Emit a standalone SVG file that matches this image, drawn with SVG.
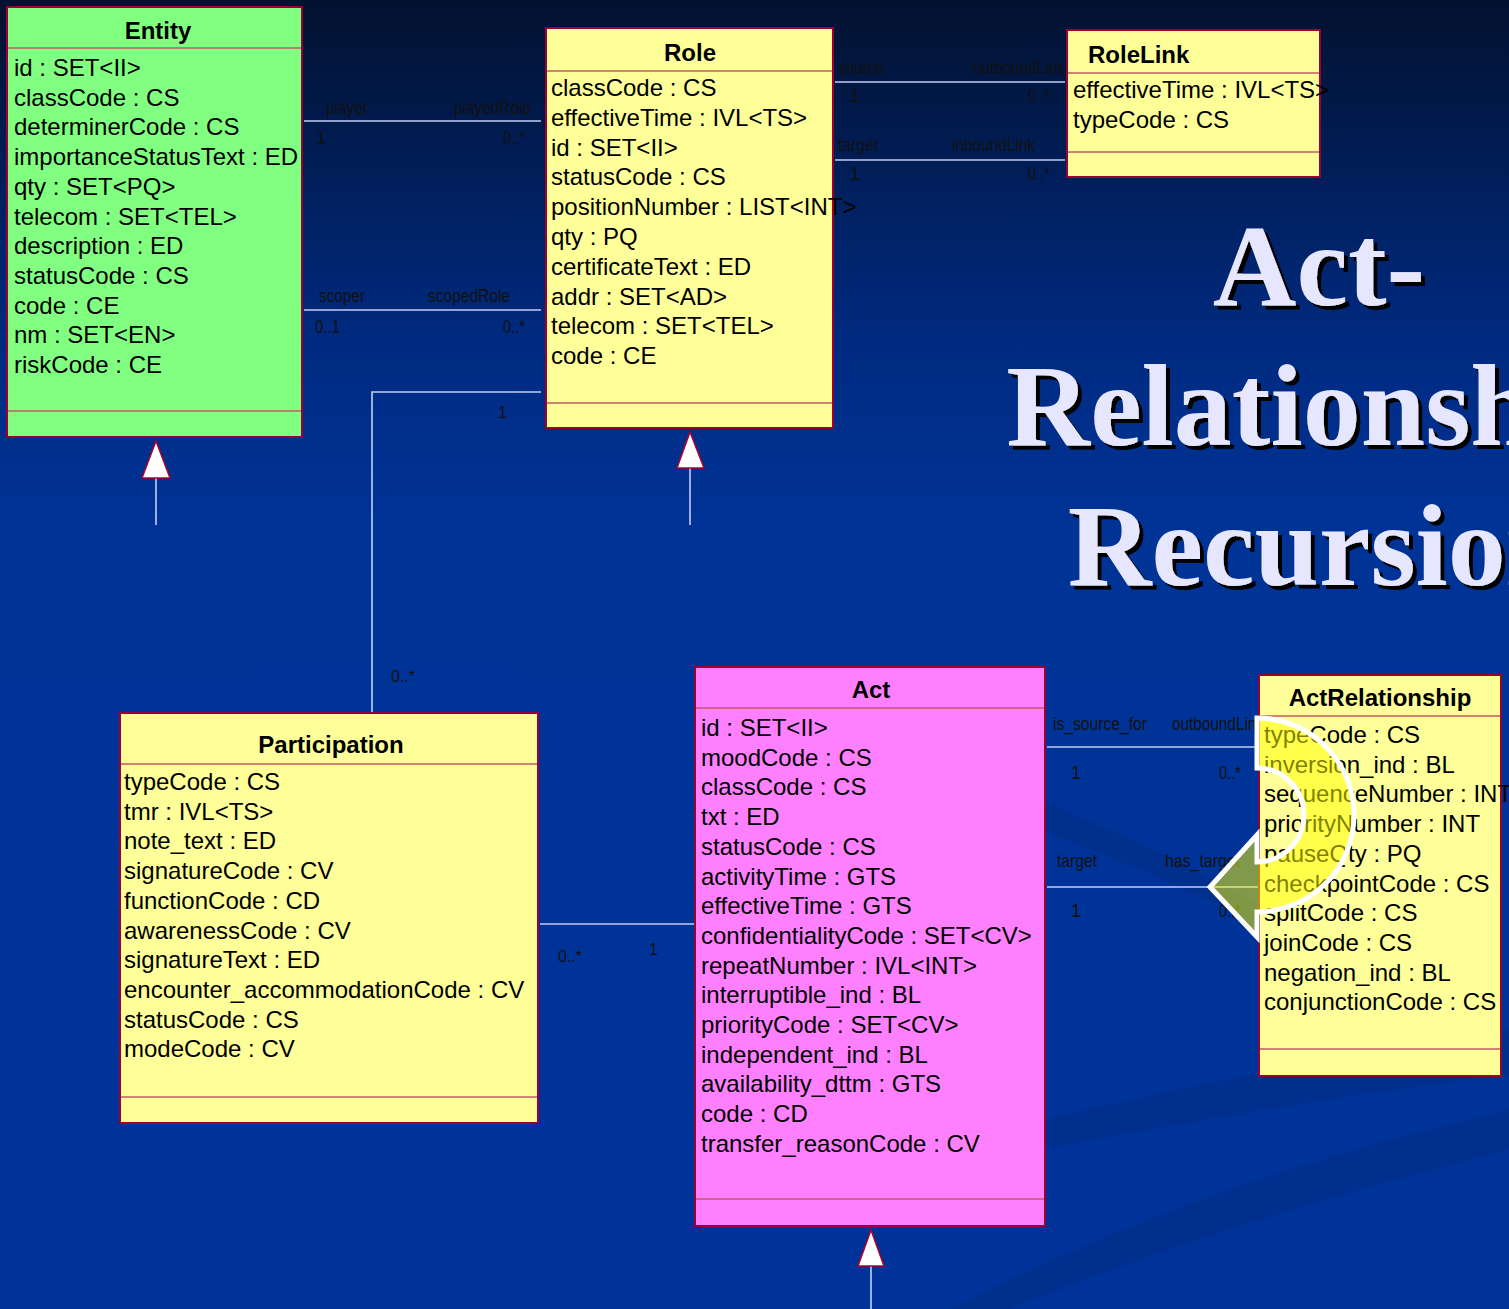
<svg xmlns="http://www.w3.org/2000/svg" width="1509" height="1309" viewBox="0 0 1509 1309">
  <defs>
    <linearGradient id="bg" x1="0" y1="0" x2="0" y2="1309" gradientUnits="userSpaceOnUse">
      <stop offset="0" stop-color="#03112f"/>
      <stop offset="0.12" stop-color="#011d55"/>
      <stop offset="0.26" stop-color="#002a80"/>
      <stop offset="0.4" stop-color="#003396"/>
      <stop offset="1" stop-color="#003399"/>
    </linearGradient>
    <filter id="shadow" x="-5%" y="-5%" width="115%" height="120%">
      <feOffset in="SourceAlpha" dx="4" dy="4" result="off"/>
      <feFlood flood-color="#000000"/>
      <feComposite in2="off" operator="in" result="sh"/>
      <feMerge>
        <feMergeNode in="sh"/>
        <feMergeNode in="SourceGraphic"/>
      </feMerge>
    </filter>
  </defs>
  <style>
    .box { stroke: #990033; stroke-width: 2; }
    .green { fill: #80ff80; }
    .yellow { fill: #ffff99; }
    .pink { fill: #ff80ff; }
    .sep { stroke: #c05a6a; stroke-width: 1.5; }
    .ttl { font-family: "Liberation Sans", Arial, sans-serif; font-weight: bold; font-size: 24px; fill: #000; text-anchor: middle; }
    .att { font-family: "Liberation Sans", Arial, sans-serif; font-size: 24px; fill: #000; }
    .conn { stroke: #c4cdf4; stroke-width: 1.6; fill: none; }
    .lbl { font-family: "Liberation Sans Narrow", "Arial Narrow", "Liberation Sans", sans-serif; font-size: 18px; fill: #111; }
    .mul { font-family: "Liberation Sans", Arial, sans-serif; font-size: 16px; fill: #111; }
    .gen { fill: #ffffff; stroke: #b0002a; stroke-width: 1.5; }
    .heading { font-family: "Liberation Serif", "Times New Roman", serif; font-weight: bold; font-size: 116px; fill: #e6e6ff; text-anchor: middle; }
  </style>

  <!-- backdrop -->
  <rect x="0" y="0" width="1509" height="1309" fill="url(#bg)"/>
  <g opacity="0.18" fill="#00225f">
    <path d="M1040 800 Q1160 850 1260 905 L1260 925 Q1150 870 1040 830 Z"/>
    <path d="M1040 1120 Q1300 1060 1509 1030 L1509 1075 Q1300 1100 1040 1150 Z"/>
    <path d="M950 1309 Q1200 1180 1509 1110 L1509 1150 Q1230 1220 1010 1309 Z"/>
  </g>

  <!-- heading -->
  <g filter="url(#shadow)">
    <text class="heading" x="1319" y="305">Act-</text>
    <text class="heading" x="1319" y="445">Relationship</text>
    <text class="heading" x="1319" y="585">Recursion</text>
  </g>

  <!-- connectors -->
  <g id="connectors">
    <!-- Entity - Role: player / playedRole -->
    <line class="conn" x1="304" y1="121" x2="541" y2="121"/>
    <text class="lbl" x="326" y="114" textLength="42" lengthAdjust="spacingAndGlyphs">player</text>
    <text class="lbl" x="454" y="114" textLength="77" lengthAdjust="spacingAndGlyphs">playedRole</text>
    <text class="lbl" x="316" y="144">1</text>
    <text class="lbl" x="503" y="144" textLength="22" lengthAdjust="spacingAndGlyphs">0..*</text>

    <!-- Entity - Role: scoper / scopedRole -->
    <line class="conn" x1="304" y1="310" x2="541" y2="310"/>
    <text class="lbl" x="319" y="302" textLength="46" lengthAdjust="spacingAndGlyphs">scoper</text>
    <text class="lbl" x="428" y="302" textLength="82" lengthAdjust="spacingAndGlyphs">scopedRole</text>
    <text class="lbl" x="315" y="333" textLength="25" lengthAdjust="spacingAndGlyphs">0..1</text>
    <text class="lbl" x="503" y="333" textLength="22" lengthAdjust="spacingAndGlyphs">0..*</text>

    <!-- Role - RoleLink: source / outboundLink -->
    <line class="conn" x1="835" y1="82" x2="1065" y2="82"/>
    <text class="lbl" x="838" y="74" textLength="46" lengthAdjust="spacingAndGlyphs">source</text>
    <text class="lbl" x="973" y="74" textLength="92" lengthAdjust="spacingAndGlyphs">outboundLink</text>
    <text class="lbl" x="850" y="102">1</text>
    <text class="lbl" x="1028" y="102" textLength="22" lengthAdjust="spacingAndGlyphs">0..*</text>

    <!-- Role - RoleLink: target / inboundLink -->
    <line class="conn" x1="835" y1="160" x2="1065" y2="160"/>
    <text class="lbl" x="838" y="151" textLength="40" lengthAdjust="spacingAndGlyphs">target</text>
    <text class="lbl" x="952" y="151" textLength="83" lengthAdjust="spacingAndGlyphs">inboundLink</text>
    <text class="lbl" x="850" y="180">1</text>
    <text class="lbl" x="1028" y="180" textLength="22" lengthAdjust="spacingAndGlyphs">0..*</text>

    <!-- Participation - Role -->
    <polyline class="conn" points="372,712 372,392 541,392"/>
    <text class="mul" x="498" y="418">1</text>
    <text class="mul" x="391" y="682">0..*</text>

    <!-- Participation - Act -->
    <line class="conn" x1="540" y1="924" x2="694" y2="924"/>
    <text class="mul" x="558" y="962">0..*</text>
    <text class="mul" x="649" y="955">1</text>

    <!-- Act - ActRelationship: is_source_for / outboundLink -->
    <line class="conn" x1="1047" y1="747" x2="1258" y2="747"/>
    <text class="lbl" x="1053" y="730" textLength="94" lengthAdjust="spacingAndGlyphs">is_source_for</text>
    <text class="lbl" x="1172" y="730" textLength="92" lengthAdjust="spacingAndGlyphs">outboundLink</text>
    <text class="lbl" x="1071" y="779">1</text>
    <text class="lbl" x="1219" y="779" textLength="22" lengthAdjust="spacingAndGlyphs">0..*</text>

    <!-- Act - ActRelationship: target / has_target -->
    <line class="conn" x1="1047" y1="887" x2="1258" y2="887"/>
    <text class="lbl" x="1057" y="867" textLength="40" lengthAdjust="spacingAndGlyphs">target</text>
    <text class="lbl" x="1165" y="867" textLength="75" lengthAdjust="spacingAndGlyphs">has_target</text>
    <text class="lbl" x="1071" y="917">1</text>
    <text class="lbl" x="1219" y="917" textLength="22" lengthAdjust="spacingAndGlyphs">0..*</text>

    <!-- generalization stubs -->
    <line class="conn" x1="156" y1="478" x2="156" y2="525"/>
    <polygon class="gen" points="156,441 170,478 142,478"/>
    <line class="conn" x1="690" y1="468" x2="690" y2="525"/>
    <polygon class="gen" points="690,432 704,468 677,468"/>
    <line class="conn" x1="871" y1="1266" x2="871" y2="1309"/>
    <polygon class="gen" points="871,1230 884,1266 858,1266"/>
  </g>

  <!-- Entity -->
  <g id="entity">
    <rect class="box green" x="7" y="7" width="295" height="430"/>
    <line class="sep" x1="8" y1="48" x2="301" y2="48"/>
    <line class="sep" x1="8" y1="411" x2="301" y2="411"/>
    <text class="ttl" x="158" y="39">Entity</text>
    <text class="att" x="14" y="76">id : SET&lt;II&gt;</text>
    <text class="att" x="14" y="105.7">classCode : CS</text>
    <text class="att" x="14" y="135.4">determinerCode : CS</text>
    <text class="att" x="14" y="165.1">importanceStatusText : ED</text>
    <text class="att" x="14" y="194.8">qty : SET&lt;PQ&gt;</text>
    <text class="att" x="14" y="224.5">telecom : SET&lt;TEL&gt;</text>
    <text class="att" x="14" y="254.2">description : ED</text>
    <text class="att" x="14" y="283.9">statusCode : CS</text>
    <text class="att" x="14" y="313.6">code : CE</text>
    <text class="att" x="14" y="343.3">nm : SET&lt;EN&gt;</text>
    <text class="att" x="14" y="373">riskCode : CE</text>
  </g>

  <!-- Role -->
  <g id="role">
    <rect class="box yellow" x="546" y="28" width="287" height="400"/>
    <line class="sep" x1="547" y1="71" x2="832" y2="71"/>
    <line class="sep" x1="547" y1="403" x2="832" y2="403"/>
    <text class="ttl" x="690" y="61">Role</text>
    <text class="att" x="551" y="96">classCode : CS</text>
    <text class="att" x="551" y="125.8">effectiveTime : IVL&lt;TS&gt;</text>
    <text class="att" x="551" y="155.6">id : SET&lt;II&gt;</text>
    <text class="att" x="551" y="185.4">statusCode : CS</text>
    <text class="att" x="551" y="215.2">positionNumber : LIST&lt;INT&gt;</text>
    <text class="att" x="551" y="245">qty : PQ</text>
    <text class="att" x="551" y="274.8">certificateText : ED</text>
    <text class="att" x="551" y="304.6">addr : SET&lt;AD&gt;</text>
    <text class="att" x="551" y="334.4">telecom : SET&lt;TEL&gt;</text>
    <text class="att" x="551" y="364.2">code : CE</text>
  </g>

  <!-- RoleLink -->
  <g id="rolelink">
    <rect class="box yellow" x="1067" y="30" width="253" height="147"/>
    <line class="sep" x1="1068" y1="73" x2="1319" y2="73"/>
    <line class="sep" x1="1068" y1="152" x2="1319" y2="152"/>
    <text class="ttl" x="1088" y="63" style="text-anchor:start">RoleLink</text>
    <text class="att" x="1073" y="98">effectiveTime : IVL&lt;TS&gt;</text>
    <text class="att" x="1073" y="128">typeCode : CS</text>
  </g>

  <!-- Participation -->
  <g id="participation">
    <rect class="box yellow" x="120" y="713" width="418" height="410"/>
    <line class="sep" x1="121" y1="764" x2="537" y2="764"/>
    <line class="sep" x1="121" y1="1097" x2="537" y2="1097"/>
    <text class="ttl" x="331" y="753">Participation</text>
    <text class="att" x="124" y="790">typeCode : CS</text>
    <text class="att" x="124" y="819.7">tmr : IVL&lt;TS&gt;</text>
    <text class="att" x="124" y="849.4">note_text : ED</text>
    <text class="att" x="124" y="879.1">signatureCode : CV</text>
    <text class="att" x="124" y="908.8">functionCode : CD</text>
    <text class="att" x="124" y="938.5">awarenessCode : CV</text>
    <text class="att" x="124" y="968.2">signatureText : ED</text>
    <text class="att" x="124" y="997.9">encounter_accommodationCode : CV</text>
    <text class="att" x="124" y="1027.6">statusCode : CS</text>
    <text class="att" x="124" y="1057.3">modeCode : CV</text>
  </g>

  <!-- Act -->
  <g id="act">
    <rect class="box pink" x="695" y="667" width="350" height="559"/>
    <line class="sep" x1="696" y1="708" x2="1044" y2="708"/>
    <line class="sep" x1="696" y1="1199" x2="1044" y2="1199"/>
    <text class="ttl" x="871" y="698">Act</text>
    <text class="att" x="701" y="736">id : SET&lt;II&gt;</text>
    <text class="att" x="701" y="765.7">moodCode : CS</text>
    <text class="att" x="701" y="795.4">classCode : CS</text>
    <text class="att" x="701" y="825.1">txt : ED</text>
    <text class="att" x="701" y="854.8">statusCode : CS</text>
    <text class="att" x="701" y="884.5">activityTime : GTS</text>
    <text class="att" x="701" y="914.2">effectiveTime : GTS</text>
    <text class="att" x="701" y="943.9">confidentialityCode : SET&lt;CV&gt;</text>
    <text class="att" x="701" y="973.6">repeatNumber : IVL&lt;INT&gt;</text>
    <text class="att" x="701" y="1003.3">interruptible_ind : BL</text>
    <text class="att" x="701" y="1033">priorityCode : SET&lt;CV&gt;</text>
    <text class="att" x="701" y="1062.7">independent_ind : BL</text>
    <text class="att" x="701" y="1092.4">availability_dttm : GTS</text>
    <text class="att" x="701" y="1122.1">code : CD</text>
    <text class="att" x="701" y="1151.8">transfer_reasonCode : CV</text>
  </g>

  <!-- ActRelationship -->
  <g id="actrelationship">
    <rect class="box yellow" x="1259" y="675" width="242" height="401"/>
    <line class="sep" x1="1260" y1="716" x2="1500" y2="716"/>
    <line class="sep" x1="1260" y1="1049" x2="1500" y2="1049"/>
    <text class="ttl" x="1380" y="706">ActRelationship</text>
    <text class="att" x="1264" y="743">typeCode : CS</text>
    <text class="att" x="1264" y="772.7">inversion_ind : BL</text>
    <text class="att" x="1264" y="802.4">sequenceNumber : INT</text>
    <text class="att" x="1264" y="832.1">priorityNumber : INT</text>
    <text class="att" x="1264" y="861.8">pauseQty : PQ</text>
    <text class="att" x="1264" y="891.5">checkpointCode : CS</text>
    <text class="att" x="1264" y="921.2">splitCode : CS</text>
    <text class="att" x="1264" y="950.9">joinCode : CS</text>
    <text class="att" x="1264" y="980.6">negation_ind : BL</text>
    <text class="att" x="1264" y="1010.3">conjunctionCode : CS</text>
  </g>

  <!-- recursion marker: curved arrow looping back into ActRelationship -->
  <g id="recursion-arrow">
    <path d="M1257 718 A97 97 0 0 1 1257 912 L1257 937 L1210 887 L1257 835 L1257 862 A47 47 0 0 0 1257 768 Z"
          fill="#ffff00" fill-opacity="0.5" stroke="#ffffff" stroke-width="5" stroke-linejoin="miter"/>
  </g>
</svg>
